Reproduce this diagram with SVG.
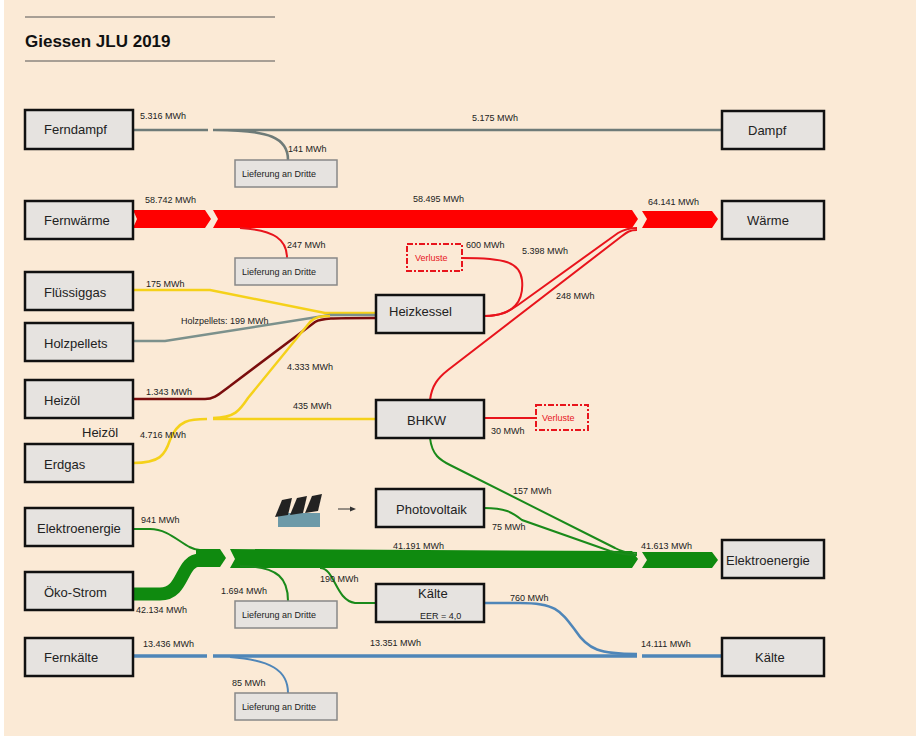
<svg xmlns="http://www.w3.org/2000/svg" width="922" height="740" viewBox="0 0 922 740">
<style>
.n{fill:#e6e3e0;stroke:#111;stroke-width:2.5}
.l{fill:#e6e3e0;stroke:#888;stroke-width:1.5}
.v{fill:none;stroke:#e8141c;stroke-width:2;stroke-dasharray:6 2 2 2}
.t{font-family:"Liberation Sans",Arial,sans-serif;font-size:13px;fill:#222}
.s{font-family:"Liberation Sans",Arial,sans-serif;font-size:9px;fill:#222}
.vt{font-family:"Liberation Sans",Arial,sans-serif;font-size:9px;fill:#e8141c}
.f{fill:none;stroke-linecap:butt}
</style>
<rect width="922" height="740" fill="#fff"/>
<rect x="4" y="0" width="912" height="736" fill="#fbead6"/>
<line x1="25" y1="17" x2="275" y2="17" stroke="#555"/>
<line x1="25" y1="61" x2="275" y2="61" stroke="#555"/>
<text x="25" y="47" font-family="Liberation Sans,Arial,sans-serif" font-size="17" font-weight="bold" fill="#111">Giessen JLU 2019</text>
<g id="connectors">
<path class="f" stroke="#6e7b78" stroke-width="2.5" d="M133,130 L208,130 M213,130 L722,130 M215,130 C270,130 288,138 288,160"/>
<polygon fill="#f00" points="133,210 205,210 211,219 205,228 133,228 137,219"/>
<polygon fill="#f00" points="213,210 632,210 638,219 632,228 213,228 218,219"/>
<polygon fill="#f00" points="642,211 712,211 718,219 712,228 642,228 647,219"/>
<path class="f" stroke="#e8141c" stroke-width="2" d="M240,228 C275,230 287,240 287,258"/>
<path class="f" stroke="#e8141c" stroke-width="2" d="M484,316 C515,316 524,300 522,280 C520,262 505,258 462,258"/>
<path class="f" stroke="#e8141c" stroke-width="2" d="M484,316 C500,316 508,312 518,305 L618,233 C623,230 628,228 637,228"/>
<path class="f" stroke="#e8141c" stroke-width="2" d="M430,400 C432,385 438,378 448,370 L622,236 C627,232 630,230 637,230"/>
<path class="f" stroke="#e8141c" stroke-width="2" d="M484,418 L536,418"/>
<path class="f" stroke="#f5d11a" stroke-width="2.5" d="M133,290 L210,290 L325,313 L376,313"/>
<path class="f" stroke="#7c918c" stroke-width="2.5" d="M133,341 L165,341 L330,315 L376,315"/>
<path class="f" stroke="#7a0d0d" stroke-width="2.5" d="M133,399 L205,399 C215,399 220,393 230,386 L315,322 C322,318 330,318 376,318"/>
<path class="f" stroke="#f5d11a" stroke-width="2.5" d="M133,463 C160,463 165,455 170,440 C178,420 190,419 207,419 M213,419 L376,419 M213,418 C235,418 240,410 248,398 L310,322 C315,317 320,316 330,316"/>
<path class="f" stroke="#1a8a1a" stroke-width="2" d="M133,529 L150,529 C172,529 185,550 200,550"/>
<path class="f" stroke="#0f8a0f" stroke-width="13" d="M133,594 L160,594 C185,594 180,560 200,560"/>
<polygon fill="#0f8a0f" points="196,549 220,549 226,558 220,567 196,567"/>
<polygon fill="#0f8a0f" points="230,549 632,551 638,559 632,568 230,568 235,559"/>
<polygon fill="#0f8a0f" points="642,552 712,552 718,560 712,568 642,568 647,560"/>
<path class="f" stroke="#1a8a1a" stroke-width="2" d="M240,566 C280,566 288,580 288,601"/>
<path class="f" stroke="#1a8a1a" stroke-width="2" d="M320,568 C335,568 335,600 355,603 L376,603"/>
<path class="f" stroke="#1a8a1a" stroke-width="2" d="M430,438 C432,455 440,460 450,465 L615,548 C622,552 628,553 637,553"/>
<path class="f" stroke="#1a8a1a" stroke-width="2" d="M484,508 C505,508 512,512 522,520 L610,551 C620,554 628,555 637,555"/>
<path class="f" stroke="#4f86b8" stroke-width="2.5" d="M484,603 L520,603 C555,603 560,610 575,630 C588,650 600,654 637,654"/>
<path class="f" stroke="#4f86b8" stroke-width="3.5" d="M133,656 L207,656 M213,656 L637,656 M642,656 L722,656"/>
<path class="f" stroke="#4f86b8" stroke-width="2" d="M230,657 C270,660 288,670 288,693"/>
<path class="f" stroke="#333" stroke-width="1" d="M338,509 L352,509"/>
<polygon fill="#333" points="356,509 350,506.5 350,511.5"/>
</g>
<g id="solar">
<rect x="278" y="513" width="42" height="14" fill="#6d9aa8"/>
<polygon fill="#222" points="275,517 282,500 292,498 288,515"/>
<polygon fill="#222" points="290,515 297,498 307,496 303,513"/>
<polygon fill="#222" points="305,513 312,496 322,494 318,511"/>
</g>
<g id="Ferndampf"><rect class="n" x="25" y="110" width="108" height="39"/><text class="t" x="44" y="134">Ferndampf</text></g>
<g id="Dampf"><rect class="n" x="722" y="111" width="102" height="38"/><text class="t" x="748" y="135">Dampf</text></g>
<g id="Fernwaerme"><rect class="n" x="25" y="201" width="108" height="38"/><text class="t" x="44" y="225">Fernwärme</text></g>
<g id="Waerme"><rect class="n" x="722" y="201" width="102" height="38"/><text class="t" x="747" y="225">Wärme</text></g>
<g id="Fluessiggas"><rect class="n" x="25" y="272" width="108" height="38"/><text class="t" x="44" y="297">Flüssiggas</text></g>
<g id="Holzpellets"><rect class="n" x="25" y="323" width="108" height="38"/><text class="t" x="44" y="348">Holzpellets</text></g>
<g id="Heizoel"><rect class="n" x="25" y="380" width="108" height="38"/><text class="t" x="44" y="405">Heizöl</text></g>
<text class="t" x="82" y="437">Heizöl</text>
<g id="Erdgas"><rect class="n" x="25" y="444" width="108" height="38"/><text class="t" x="44" y="469">Erdgas</text></g>
<g id="Heizkessel"><rect class="n" x="376" y="295" width="108" height="38"/><text class="t" x="389" y="316">Heizkessel</text></g>
<g id="BHKW"><rect class="n" x="376" y="400" width="108" height="38"/><text class="t" x="407" y="425">BHKW</text></g>
<g id="Photovoltaik"><rect class="n" x="376" y="489" width="108" height="38"/><text class="t" x="396" y="514">Photovoltaik</text></g>
<g id="KaelteMitte"><rect class="n" x="376" y="584" width="108" height="38"/><text class="t" x="418" y="598">Kälte</text><text class="s" x="420" y="619">EER = 4,0</text></g>
<g id="ElektroL"><rect class="n" x="25" y="508" width="108" height="38"/><text class="t" x="37" y="533">Elektroenergie</text></g>
<g id="OekoStrom"><rect class="n" x="25" y="572" width="108" height="38"/><text class="t" x="44" y="597">Öko-Strom</text></g>
<g id="Fernkaelte"><rect class="n" x="25" y="638" width="108" height="38"/><text class="t" x="44" y="662">Fernkälte</text></g>
<g id="ElektroR"><rect class="n" x="722" y="540" width="102" height="38"/><text class="t" x="726" y="565">Elektroenergie</text></g>
<g id="KaelteR"><rect class="n" x="722" y="638" width="102" height="38"/><text class="t" x="755" y="662">Kälte</text></g>
<g id="L1"><rect class="l" x="235" y="160" width="102" height="27"/><text class="s" x="242" y="177">Lieferung an Dritte</text></g>
<g id="L2"><rect class="l" x="235" y="258" width="102" height="27"/><text class="s" x="242" y="275">Lieferung an Dritte</text></g>
<g id="L3"><rect class="l" x="235" y="601" width="102" height="27"/><text class="s" x="242" y="618">Lieferung an Dritte</text></g>
<g id="L4"><rect class="l" x="235" y="693" width="102" height="27"/><text class="s" x="242" y="710">Lieferung an Dritte</text></g>
<g id="V1"><rect class="v" x="407" y="244" width="55" height="27"/><text class="vt" x="415" y="261">Verluste</text></g>
<g id="V2"><rect class="v" x="536" y="405" width="52" height="25"/><text class="vt" x="542" y="421">Verluste</text></g>
<g id="labels">
<text class="s" x="140" y="119">5.316 MWh</text>
<text class="s" x="472" y="121">5.175 MWh</text>
<text class="s" x="288" y="152">141 MWh</text>
<text class="s" x="145" y="203">58.742 MWh</text>
<text class="s" x="413" y="202">58.495 MWh</text>
<text class="s" x="648" y="205">64.141 MWh</text>
<text class="s" x="287" y="248">247 MWh</text>
<text class="s" x="466" y="248">600 MWh</text>
<text class="s" x="522" y="254">5.398 MWh</text>
<text class="s" x="556" y="299">248 MWh</text>
<text class="s" x="146" y="287">175 MWh</text>
<text class="s" x="181" y="324">Holzpellets: 199 MWh</text>
<text class="s" x="287" y="370">4.333 MWh</text>
<text class="s" x="146" y="395">1.343 MWh</text>
<text class="s" x="293" y="409">435 MWh</text>
<text class="s" x="140" y="438">4.716 MWh</text>
<text class="s" x="491" y="434">30 MWh</text>
<text class="s" x="513" y="494">157 MWh</text>
<text class="s" x="492" y="530">75 MWh</text>
<text class="s" x="141" y="523">941 MWh</text>
<text class="s" x="393" y="549">41.191 MWh</text>
<text class="s" x="641" y="549">41.613 MWh</text>
<text class="s" x="221" y="594">1.694 MWh</text>
<text class="s" x="320" y="582">190 MWh</text>
<text class="s" x="136" y="613">42.134 MWh</text>
<text class="s" x="510" y="601">760 MWh</text>
<text class="s" x="143" y="647">13.436 MWh</text>
<text class="s" x="370" y="646">13.351 MWh</text>
<text class="s" x="641" y="647">14.111 MWh</text>
<text class="s" x="232" y="686">85 MWh</text>
</g>
</svg>
